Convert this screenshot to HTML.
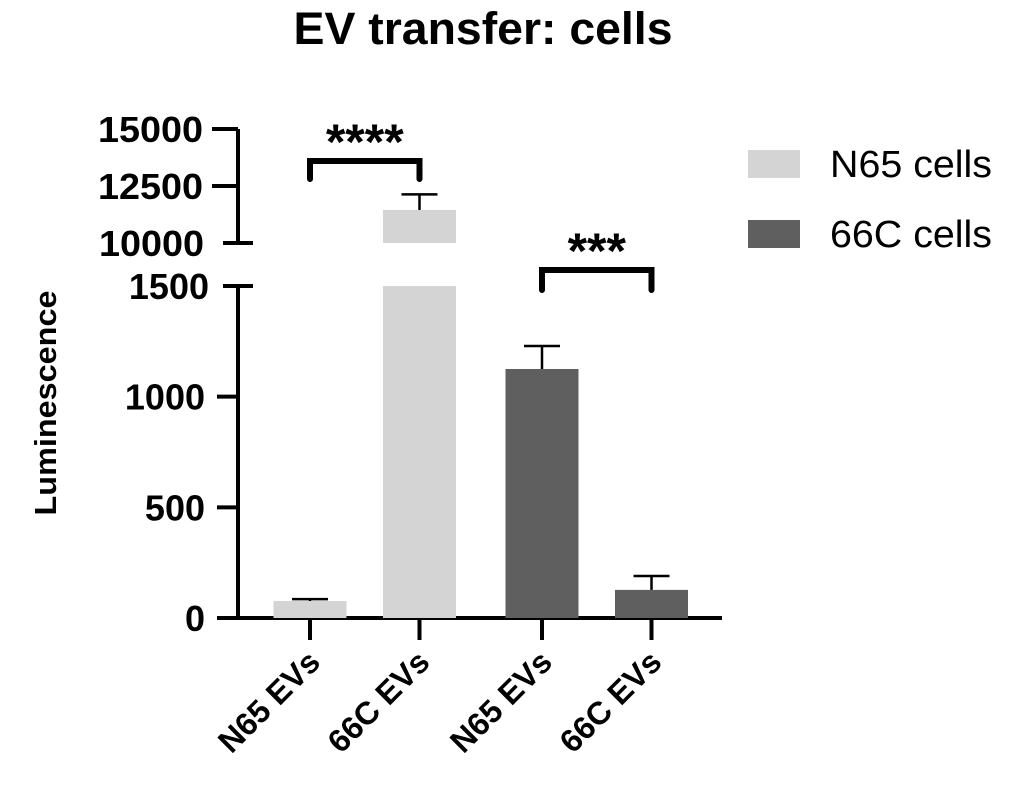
<!DOCTYPE html>
<html><head><meta charset="utf-8"><style>
html,body{margin:0;padding:0;background:#fff;}
svg{display:block;font-family:"Liberation Sans",Arial,sans-serif;}
</style></head><body>
<svg id="chart" width="1019" height="794" viewBox="0 0 1019 794">
<text x="483" y="44" text-anchor="middle" font-size="45" font-weight="bold" textLength="379" lengthAdjust="spacingAndGlyphs">EV transfer: cells</text>
<text transform="translate(56,403) rotate(-90)" text-anchor="middle" font-size="31" font-weight="bold" textLength="225" lengthAdjust="spacingAndGlyphs">Luminescence</text>
<g id="axes"></g>
<g id="bars"></g>
<g id="sig"></g>
<g>
<rect x="748" y="150" width="52" height="28" fill="#d4d4d4"/>
<text x="830" y="177" font-size="38" textLength="162" lengthAdjust="spacingAndGlyphs">N65 cells</text>
<rect x="748" y="220" width="52" height="28" fill="#5f5f5f"/>
<text x="830" y="247" font-size="38" textLength="162" lengthAdjust="spacingAndGlyphs">66C cells</text>
</g>
</svg>
<script>
const categories = ["N65 EVs","66C EVs","N65 EVs","66C EVs"];
const values = [77, 11450, 1125, 127];
const errors = [8, 680, 104, 63];
const groups = ["n65","n65","66c","66c"];
const lowerTicks = [0,500,1000,1500];
const upperTicks = [10000,12500,15000];
const sigLabels = ["****","***"];
const sigPairs = [[0,1],[2,3]];

const NS="http://www.w3.org/2000/svg";
function mk(tag,attrs,parent){const e=document.createElementNS(NS,tag);for(const k in attrs)e.setAttribute(k,attrs[k]);parent.appendChild(e);return e;}
const yLow=v=>618-(v-0)*(618-286)/1500;
const yUp=v=>243-(v-10000)*(243-129)/5000;
const xC=i=>[310,419.5,542,651.5][i];
const bw=73;
const colors={n65:"#d4d4d4","66c":"#5f5f5f"};
function yTop(v){return v>1500?yUp(v):yLow(v);}

const axes=document.getElementById('axes');
let l=mk('line',{x1:238,y1:286,x2:238,y2:620,stroke:'#000','stroke-width':4},axes);

l=mk('line',{x1:217,y1:618,x2:722,y2:618,stroke:'#000','stroke-width':4},axes);

lowerTicks.forEach(t=>{
  const y=yLow(t);
  const tk=mk('line',{x1:t===1500?223:217,y1:y,x2:t===1500?253:238,y2:y,stroke:'#000','stroke-width':4},axes);
  
  const tx=mk('text',{x:t===1500?209:205,y:y+13,'text-anchor':'end','font-size':36,'font-weight':'bold'},axes);
  tx.textContent=t;
  
});
l=mk('line',{x1:238,y1:129,x2:238,y2:243,stroke:'#000','stroke-width':4},axes);

upperTicks.forEach(t=>{
  const y=yUp(t);
  const tk=mk('line',{x1:t===10000?223:212,y1:y,x2:t===10000?253:238,y2:y,stroke:'#000','stroke-width':4},axes);
  
  const tx=mk('text',{x:t===10000?204:203,y:y+13,'text-anchor':'end','font-size':36,'font-weight':'bold',textLength:105,lengthAdjust:'spacingAndGlyphs'},axes);
  tx.textContent=t;
  
});
const bars=document.getElementById('bars');
values.forEach((v,i)=>{
  const x=xC(i)-bw/2, c=colors[groups[i]];
  if(v>1500){
    let r=mk('rect',{x:x,y:yLow(1500),width:bw,height:618-yLow(1500),fill:c},bars);
    
    r=mk('rect',{x:x,y:yUp(v),width:bw,height:Math.max(0,243-yUp(v)),fill:c},bars);
    
  } else {
    const r=mk('rect',{x:x,y:yLow(v),width:bw,height:618-yLow(v),fill:c},bars);
    
  }
  const yt=yTop(v), ye=yTop(v+errors[i]);
  let e=mk('path',{d:`M${xC(i)},${yt}V${ye}M${xC(i)-18},${ye}H${xC(i)+18}`,stroke:'#000','stroke-width':2.5,fill:'none'},bars);
  
  const tk=mk('line',{x1:xC(i),y1:618,x2:xC(i),y2:640,stroke:'#000','stroke-width':4},bars);
  
  const tx=mk('text',{x:0,y:0,'text-anchor':'end','font-size':32,'font-weight':'bold',transform:`translate(${xC(i)+12},${664}) rotate(-45)`},bars);
  tx.textContent=categories[i];
  
});
const sig=document.getElementById('sig');
sigPairs.forEach((p,k)=>{
  const a=xC(p[0]), b=xC(p[1]);
  const topY = k===0?161:270, leg = k===0?18:20;
  const br=mk('path',{d:`M${a},${topY+leg}V${topY}H${b}V${topY+leg}`,stroke:'#000','stroke-width':6,fill:'none','stroke-linecap':'round','stroke-linejoin':'miter'},sig);
  
  const st=mk('text',{x:(a+b)/2,y:topY-2,'text-anchor':'middle','font-size':50,'font-weight':'bold'},sig);
  st.textContent=sigLabels[k];
  
});
</script>
</body></html>
